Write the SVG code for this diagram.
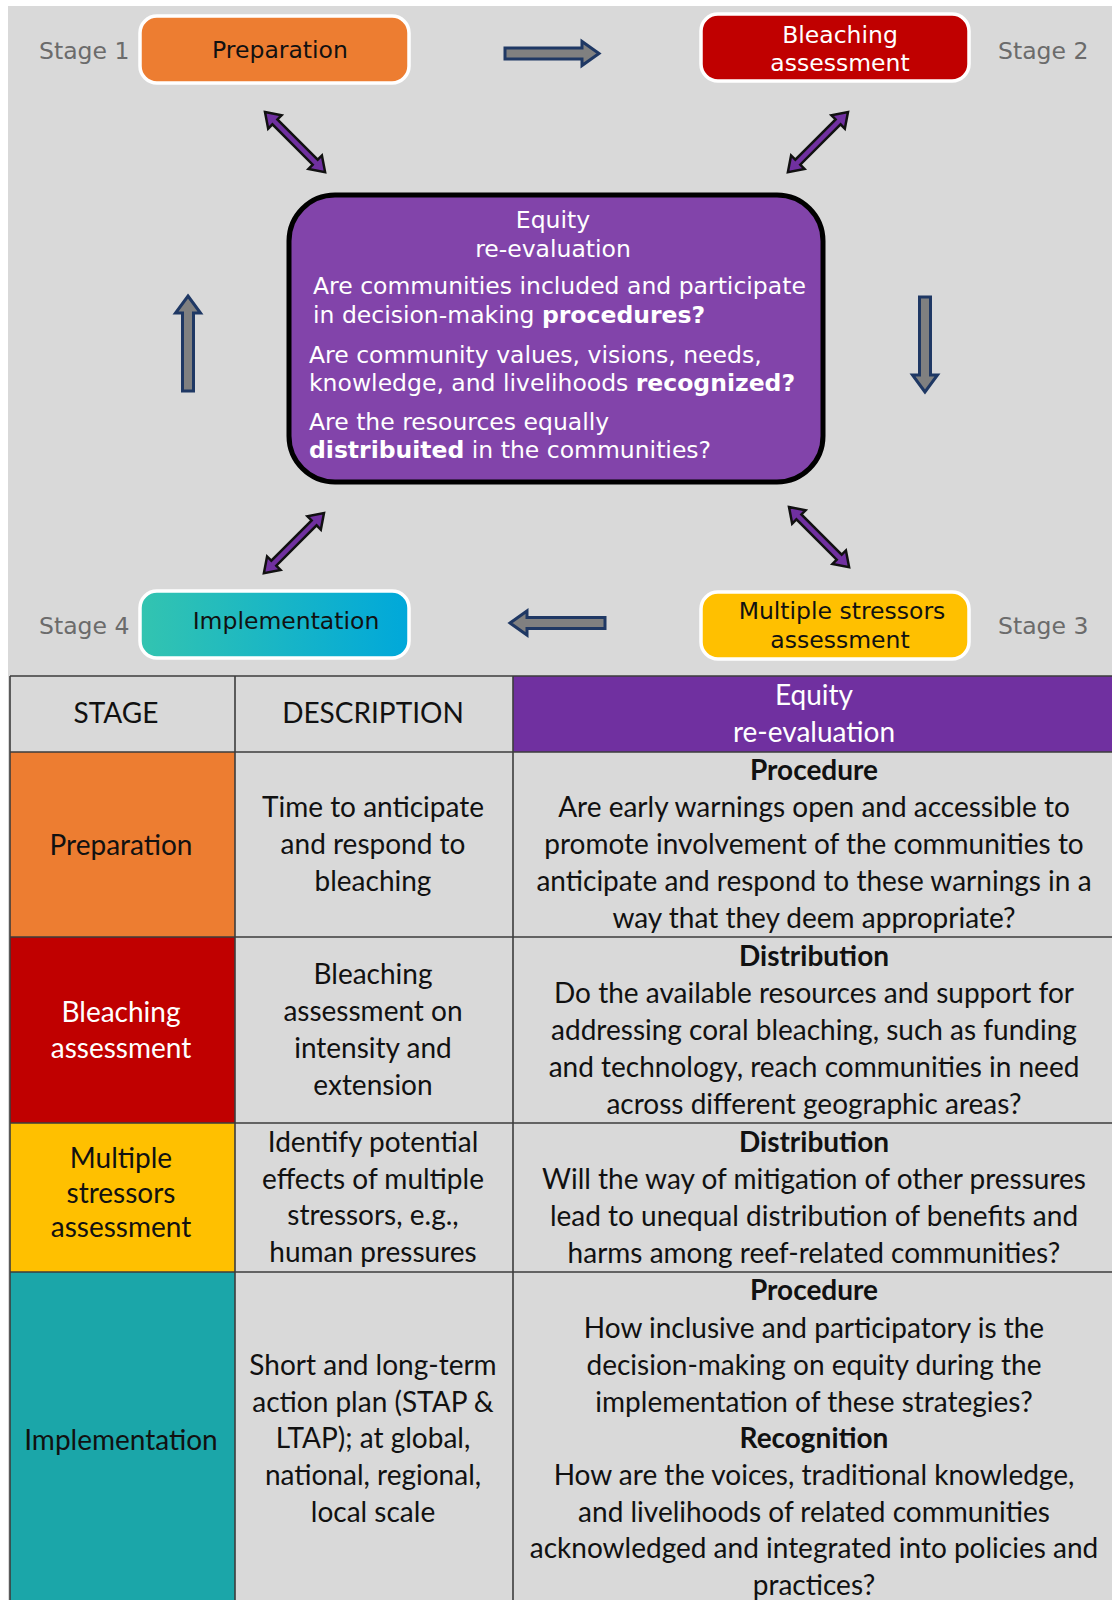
<svg xmlns="http://www.w3.org/2000/svg" width="1112" height="1600" viewBox="0 0 1112 1600">
<defs>
<linearGradient id="impl" x1="0" y1="0" x2="1" y2="0">
<stop offset="0" stop-color="#33c4b0"/>
<stop offset="1" stop-color="#00a8da"/>
</linearGradient>
<path id="dbl" d="M0,0 L14,-9.5 L14,-3.5 L71,-3.5 L71,-9.5 L85,0 L71,9.5 L71,3.5 L14,3.5 L14,9.5 Z"/>
</defs>
<style>
.v{font-family:"DejaVu Sans","Verdana",sans-serif;font-size:23.5px}
.stg{fill:#6b6b6b}
.box{stroke:#ffffff;stroke-width:3.5}
.blk{fill:#111111;text-anchor:middle}
.wht{fill:#ffffff;text-anchor:middle}
.pq{fill:#ffffff}
.b{font-weight:bold}
.dbl{fill:#7030a0;stroke:#111111;stroke-width:2.5;stroke-linejoin:miter}
.blkarrow{fill:#808080;stroke:#1f3864;stroke-width:3;stroke-linejoin:miter}
.t{font-family:Lato,"Liberation Sans",sans-serif;font-size:28px;text-anchor:middle;fill:#111111}
.tw{fill:#ffffff}
.grid{stroke:#3c3c3c;stroke-width:1.6;fill:none}
</style>
<rect x="0" y="0" width="1112" height="1600" fill="#ffffff"/>
<rect x="8" y="6" width="1104" height="1594" fill="#d9d9d9"/>

<g id="stage1">
<text class="v stg" x="39" y="59">Stage 1</text>
<rect class="box" x="140" y="16" width="269" height="67" rx="17" fill="#ed7d31"/>
<text class="v blk" x="280" y="58">Preparation</text>
</g>
<g id="stage2">
<text class="v stg" x="998" y="59">Stage 2</text>
<rect class="box" x="701" y="14" width="268" height="67" rx="17" fill="#c00000"/>
<text class="v wht" x="840" y="43">Bleaching</text>
<text class="v wht" x="840" y="71">assessment</text>
</g>
<g id="stage3">
<text class="v stg" x="998" y="634">Stage 3</text>
<rect class="box" x="701" y="592" width="268" height="67" rx="17" fill="#ffc000"/>
<text class="v blk" x="842" y="619">Multiple stressors</text>
<text class="v blk" x="840" y="648">assessment</text>
</g>
<g id="stage4">
<text class="v stg" x="39" y="634">Stage 4</text>
<rect class="box" x="140" y="591" width="269" height="67" rx="17" fill="url(#impl)"/>
<text class="v blk" x="286" y="629">Implementation</text>
</g>
<g id="equity">
<rect x="289" y="195" width="534" height="287" rx="46" fill="#8244aa" stroke="#000000" stroke-width="5"/>
<text class="v wht" x="553" y="228">Equity</text>
<text class="v wht" x="553" y="257">re-evaluation</text>
<text class="v pq" x="313" y="294">Are communities included and participate</text>
<text class="v pq" x="313" y="323">in decision-making <tspan class="b">procedures?</tspan></text>
<text class="v pq" x="309" y="363">Are community values, visions, needs,</text>
<text class="v pq" x="309" y="391">knowledge, and livelihoods <tspan class="b">recognized?</tspan></text>
<text class="v pq" x="309" y="430">Are the resources equally</text>
<text class="v pq" x="309" y="458"><tspan class="b">distribuited</tspan> in the communities?</text>
</g>

<g id="connectors">
<path class="blkarrow" d="M505,48 L582,48 L582,41.5 L599,53.5 L582,65.5 L582,59 L505,59 Z"/>
<path class="blkarrow" d="M925,392 L912.5,375 L919.5,375 L919.5,297 L930.5,297 L930.5,375 L937.5,375 Z"/>
<path class="blkarrow" d="M510,623 L527,611 L527,617.5 L605,617.5 L605,628.5 L527,628.5 L527,635 Z"/>
<path class="blkarrow" d="M188,296 L200.5,313 L193.5,313 L193.5,391 L182.5,391 L182.5,313 L175.5,313 Z"/>
<use href="#dbl" class="dbl" transform="translate(265,112) rotate(45)"/>
<use href="#dbl" class="dbl" transform="translate(848,112) rotate(135)"/>
<use href="#dbl" class="dbl" transform="translate(324,513) rotate(135)"/>
<use href="#dbl" class="dbl" transform="translate(789,507) rotate(45)"/>
</g>

<g id="table">
<rect x="10" y="676" width="225" height="76" fill="#d9d9d9"/>
<rect x="235" y="676" width="278" height="76" fill="#d9d9d9"/>
<rect x="513" y="676" width="599" height="76" fill="#7030a0"/>
<rect x="10" y="752" width="225" height="185" fill="#ed7d31"/>
<rect x="10" y="937" width="225" height="186" fill="#c00000"/>
<rect x="10" y="1123" width="225" height="149" fill="#ffc000"/>
<rect x="10" y="1272" width="225" height="328" fill="#1ba6a9"/>
<path class="grid" d="M10,676 H1112 M10,752 H1112 M10,937 H1112 M10,1123 H1112 M10,1272 H1112 M10,676 V1600 M235,676 V1600 M513,676 V1600"/>

<text class="t" x="116" y="723">STAGE</text>
<text class="t" x="373" y="723">DESCRIPTION</text>
<text class="t tw" x="814" y="705">Equity</text>
<text class="t tw" x="814" y="742">re-evaluation</text>

<text class="t" x="121" y="855">Preparation</text>
<text class="t" x="373" y="817">Time to anticipate</text>
<text class="t" x="373" y="854">and respond to</text>
<text class="t" x="373" y="891">bleaching</text>
<text class="t b" x="814" y="780">Procedure</text>
<text class="t" x="814" y="817">Are early warnings open and accessible to</text>
<text class="t" x="814" y="854">promote involvement of the communities to</text>
<text class="t" x="814" y="891">anticipate and respond to these warnings in a</text>
<text class="t" x="814" y="928">way that they deem appropriate?</text>

<text class="t tw" x="121" y="1022">Bleaching</text>
<text class="t tw" x="121" y="1058">assessment</text>
<text class="t" x="373" y="984">Bleaching</text>
<text class="t" x="373" y="1021">assessment on</text>
<text class="t" x="373" y="1058">intensity and</text>
<text class="t" x="373" y="1095">extension</text>
<text class="t b" x="814" y="966">Distribution</text>
<text class="t" x="814" y="1003">Do the available resources and support for</text>
<text class="t" x="814" y="1040">addressing coral bleaching, such as funding</text>
<text class="t" x="814" y="1077">and technology, reach communities in need</text>
<text class="t" x="814" y="1114">across different geographic areas?</text>

<text class="t" x="121" y="1168">Multiple</text>
<text class="t" x="121" y="1203">stressors</text>
<text class="t" x="121" y="1237">assessment</text>
<text class="t" x="373" y="1152">Identify potential</text>
<text class="t" x="373" y="1189">effects of multiple</text>
<text class="t" x="373" y="1225">stressors, e.g.,</text>
<text class="t" x="373" y="1262">human pressures</text>
<text class="t b" x="814" y="1152">Distribution</text>
<text class="t" x="814" y="1189">Will the way of mitigation of other pressures</text>
<text class="t" x="814" y="1226">lead to unequal distribution of benefits and</text>
<text class="t" x="814" y="1263">harms among reef-related communities?</text>

<text class="t" x="121" y="1450">Implementation</text>
<text class="t" x="373" y="1375">Short and long-term</text>
<text class="t" x="373" y="1412">action plan (STAP &amp;</text>
<text class="t" x="373" y="1448">LTAP); at global,</text>
<text class="t" x="373" y="1485">national, regional,</text>
<text class="t" x="373" y="1522">local scale</text>
<text class="t b" x="814" y="1300">Procedure</text>
<text class="t" x="814" y="1338">How inclusive and participatory is the</text>
<text class="t" x="814" y="1375">decision-making on equity during the</text>
<text class="t" x="814" y="1412">implementation of these strategies?</text>
<text class="t b" x="814" y="1448">Recognition</text>
<text class="t" x="814" y="1485">How are the voices, traditional knowledge,</text>
<text class="t" x="814" y="1522">and livelihoods of related communities</text>
<text class="t" x="814" y="1558">acknowledged and integrated into policies and</text>
<text class="t" x="814" y="1595">practices?</text>
</g>
</svg>
